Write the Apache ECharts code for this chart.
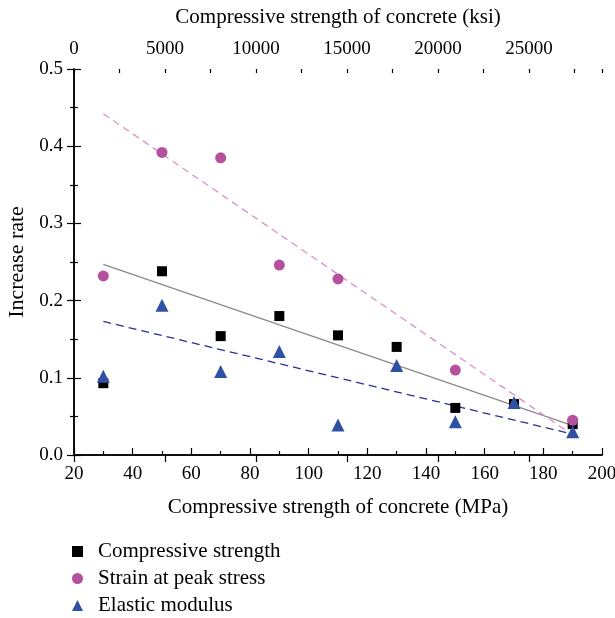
<!DOCTYPE html>
<html>
<head>
<meta charset="utf-8">
<script src="https://cdn.jsdelivr.net/npm/echarts@6/dist/echarts.min.js"></script>
<style>
  html, body { margin: 0; padding: 0; background: #fff; }
  #chart { width: 615px; height: 618px; }
</style>
</head>
<body>
<div id="chart"></div>
<script>
// measured values (MPa on x, increase rate on y)
var compressiveX = [30, 50, 70, 90, 110, 130, 150, 170, 190]
var compressiveY = [0.093, 0.238, 0.154, 0.180, 0.155, 0.140, 0.061, 0.066, 0.040]
var strainX = [30, 50, 70, 90, 110, 150, 190]
var strainY = [0.232, 0.392, 0.385, 0.246, 0.228, 0.110, 0.045]
var elasticX = [30, 50, 70, 90, 110, 130, 150, 170, 190]
var elasticY = [0.102, 0.194, 0.108, 0.134, 0.039, 0.116, 0.043, 0.068, 0.030]

// fitted trend lines (end points)
var fitX = [30, 190]
var compressiveFit = [0.247, 0.038]
var strainFit = [0.442, 0.026]
var elasticFit = [0.173, 0.027]

var names = ['Compressive strength', 'Strain at peak stress', 'Elastic modulus']
var topMax = 29008 // 200 MPa in psi

function pairs(xs, ys) {
  return xs.map(function (x, i) { return [x, ys[i]] })
}

var font = 'Liberation Serif'
var axisLine = { show: true, lineStyle: { color: '#000', width: 1.5 } }
var majorTick = { inside: true, length: 7, lineStyle: { color: '#000', width: 1.2 } }
var minorTick = { show: true, splitNumber: 2, length: 4, lineStyle: { color: '#000', width: 1.2 } }
var labelStyle = { fontFamily: font, fontSize: 19, color: '#000' }
var nameStyle = { fontFamily: font, fontSize: 21, color: '#000' }

var chart = echarts.init(document.getElementById('chart'))
chart.setOption({
  animation: false,
  grid: { left: 74, right: 13, top: 69, bottom: 163, outerBoundsMode: 'none' },
  legend: {
    data: names,
    orient: 'vertical',
    left: 72,
    top: 541,
    padding: 0,
    itemGap: 6,
    itemWidth: 11,
    itemHeight: 11,
    textStyle: { fontFamily: font, fontSize: 21, lineHeight: 21, color: '#000', padding: [0, 0, 0, 10] }
  },
  xAxis: [
    {
      type: 'value', position: 'bottom', min: 20, max: 200, interval: 20,
      name: 'Compressive strength of concrete (MPa)', nameLocation: 'middle', nameGap: 42,
      nameTextStyle: nameStyle,
      axisLine: axisLine,
      axisTick: majorTick,
      minorTick: minorTick,
      axisLabel: Object.assign({ margin: 10 }, labelStyle),
      splitLine: { show: false }
    },
    {
      type: 'value', position: 'top', min: 0, max: topMax, interval: 5000,
      name: 'Compressive strength of concrete (ksi)', nameLocation: 'middle', nameGap: 41,
      nameTextStyle: nameStyle,
      axisLine: axisLine,
      axisTick: majorTick,
      axisLabel: Object.assign({ margin: 10, showMaxLabel: false,
        formatter: function (v) { return String(v) } }, labelStyle),
      splitLine: { show: false }
    },
    {
      type: 'value', position: 'top', min: 0, max: topMax, interval: 2500,
      axisLine: { show: false },
      axisTick: { inside: true, length: 4, lineStyle: { color: '#000', width: 1.2 } },
      axisLabel: { show: false },
      splitLine: { show: false }
    }
  ],
  yAxis: [
    {
      type: 'value', position: 'left', min: 0, max: 0.5, interval: 0.1,
      name: 'Increase rate', nameLocation: 'middle', nameGap: 46,
      nameTextStyle: Object.assign({}, nameStyle, { fontSize: 22 }),
      axisLine: axisLine,
      axisTick: majorTick,
      minorTick: minorTick,
      axisLabel: Object.assign({ margin: 11,
        formatter: function (v) { return v.toFixed(1) } }, labelStyle),
      splitLine: { show: false }
    },
    {
      type: 'value', position: 'right', min: 0, max: 0.5, interval: 0.1,
      axisLine: axisLine,
      axisTick: majorTick,
      minorTick: minorTick,
      axisLabel: { show: false },
      splitLine: { show: false }
    }
  ],
  series: [
    {
      name: 'fit-compressive', type: 'line', data: pairs(fitX, compressiveFit),
      symbol: 'none', lineStyle: { color: '#8a8a8a', width: 1.3 }, z: 1
    },
    {
      name: 'fit-strain', type: 'line', data: pairs(fitX, strainFit),
      symbol: 'none', lineStyle: { color: '#d890c8', width: 1.3, type: [7, 5] }, z: 1
    },
    {
      name: 'fit-elastic', type: 'line', data: pairs(fitX, elasticFit),
      symbol: 'none', lineStyle: { color: '#2b2f8f', width: 1.3, type: [8, 5] }, z: 1
    },
    {
      name: names[0], type: 'scatter', data: pairs(compressiveX, compressiveY),
      symbol: 'rect', symbolSize: 10, itemStyle: { color: '#000', opacity: 1 }, z: 3
    },
    {
      name: names[1], type: 'scatter', data: pairs(strainX, strainY),
      symbol: 'circle', symbolSize: 11, itemStyle: { color: '#b5509f', opacity: 1 }, z: 3
    },
    {
      name: names[2], type: 'scatter', data: pairs(elasticX, elasticY),
      symbol: 'triangle', symbolSize: 13, itemStyle: { color: '#2f51a3', opacity: 1 }, z: 3
    }
  ]
})
</script>
</body>
</html>
